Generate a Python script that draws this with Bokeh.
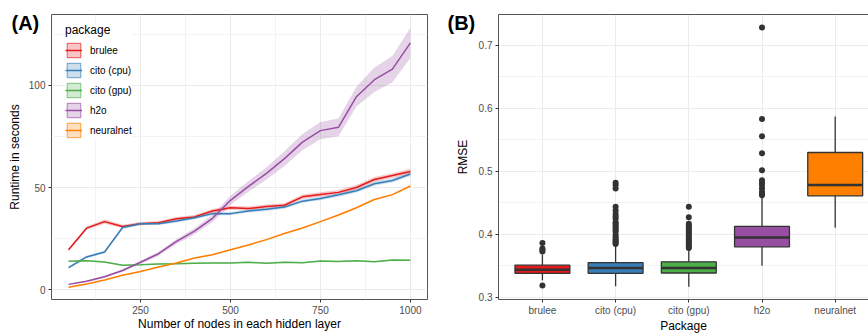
from bokeh.plotting import figure
from bokeh.layouts import row
from bokeh.models import Legend, LegendItem, Title, FixedTicker, LinearAxis, Range1d
from bokeh.embed import file_html
from bokeh.resources import INLINE

FONT = "Liberation Sans"

# ---------------- data: panel A (runtime) ----------------
nodes = [50, 100, 150, 200, 250, 300, 350, 400, 450, 500,
         550, 600, 650, 700, 750, 800, 850, 900, 950, 1000]
packages = ["brulee", "cito (cpu)", "cito (gpu)", "h2o", "neuralnet"]
colors = ["#E41A1C", "#377EB8", "#4DAF4A", "#984EA3", "#FF7F00"]

runtime_brulee = [19.6, 30.2, 33.4, 31.0, 32.4, 32.9, 34.8, 35.7, 38.6, 40.2,
                  39.8, 40.8, 41.4, 45.5, 46.6, 47.7, 50.1, 54.0, 55.9, 57.9]
runtime_cito_cpu = [10.9, 16.1, 18.5, 30.5, 32.4, 32.4, 33.7, 35.3, 37.3, 37.3,
                    38.6, 39.4, 40.5, 43.4, 44.7, 46.5, 48.5, 51.9, 53.5, 56.7]
runtime_cito_gpu = [14.0, 14.3, 13.6, 12.0, 12.3, 12.7, 12.8, 13.0, 13.2, 13.2,
                    13.5, 13.0, 13.5, 13.3, 14.1, 13.9, 14.3, 13.8, 14.6, 14.5]
runtime_h2o = [2.7, 4.2, 6.4, 9.5, 13.5, 17.7, 23.7, 28.7, 35.0, 43.8,
               50.6, 57.0, 64.2, 72.3, 77.9, 79.5, 94.5, 102.8, 108.0, 120.8]
runtime_neuralnet = [1.3, 2.9, 4.8, 7.2, 9.0, 11.2, 13.2, 15.6, 17.2, 19.6,
                     22.0, 24.6, 27.6, 30.3, 33.4, 36.6, 40.2, 44.2, 46.6, 50.8]

# half-width of the confidence ribbons
band_brulee = [0.6, 0.8, 1.0, 0.9, 0.8, 0.8, 0.9, 0.9, 1.0, 1.0,
               1.0, 1.0, 1.0, 1.1, 1.1, 1.1, 1.2, 1.2, 1.2, 1.3]
band_cito_cpu = [0.5, 0.6, 0.6, 0.7, 0.7, 0.7, 0.7, 0.7, 0.8, 0.8,
                 0.8, 0.8, 0.8, 0.8, 0.9, 0.9, 0.9, 0.9, 1.0, 1.0]
band_cito_gpu = [0.3, 0.3, 0.3, 0.3, 0.3, 0.3, 0.3, 0.3, 0.3, 0.3,
                 0.3, 0.3, 0.3, 0.3, 0.3, 0.3, 0.3, 0.3, 0.3, 0.3]
band_h2o = [0.3, 0.4, 0.5, 0.6, 0.8, 1.0, 1.2, 1.5, 1.8, 2.2,
            2.6, 3.0, 3.6, 4.0, 4.2, 4.3, 4.8, 6.0, 6.4, 7.4]
band_neuralnet = [0.2, 0.2, 0.2, 0.3, 0.3, 0.3, 0.3, 0.3, 0.3, 0.3,
                  0.3, 0.3, 0.3, 0.3, 0.3, 0.4, 0.4, 0.4, 0.4, 0.4]

x_ticks_a = [250, 500, 750, 1000]
y_ticks_a = [0, 50, 100]

# ---------------- data: panel B (RMSE boxplots) ----------------
box_pos = [1, 2, 3, 4, 5]
box_q1 = [0.338, 0.338, 0.3385, 0.380, 0.461]
box_med = [0.3437, 0.3463, 0.3463, 0.3947, 0.478]
box_q3 = [0.351, 0.355, 0.3562, 0.4125, 0.5297]
whisk_lo = [0.327, 0.3177, 0.3166, 0.350, 0.4103]
whisk_hi = [0.368, 0.3828, 0.3775, 0.460, 0.5869]
out_brulee = [0.386, 0.3775, 0.375, 0.3725, 0.3188]
out_cito_cpu = [0.3845, 0.3864, 0.388, 0.3906, 0.393, 0.3958, 0.399, 0.4036,
                0.406, 0.4088, 0.412, 0.414, 0.417, 0.4192, 0.4244, 0.428,
                0.4322, 0.4375, 0.4437, 0.4724, 0.478, 0.4817]
out_cito_gpu = [0.378, 0.380, 0.382, 0.3854, 0.388, 0.3906, 0.393, 0.3958,
                0.398, 0.401, 0.4036, 0.4062, 0.409, 0.4114, 0.414, 0.4166,
                0.427, 0.4437]
out_h2o = [0.462, 0.4645, 0.467, 0.4727, 0.478, 0.4815, 0.4856, 0.5015,
           0.5286, 0.5556, 0.5828, 0.728]
out_neuralnet = []
y_ticks_b = [0.3, 0.4, 0.5, 0.6, 0.7]

NAN = float("nan")


def style_axes(p):
    for ax in p.axis:
        ax.axis_line_color = None
        ax.major_tick_line_color = "#333333"
        ax.major_tick_out = 3
        ax.major_tick_in = 0
        ax.minor_tick_line_color = None
        ax.major_label_text_font = FONT
        ax.major_label_text_font_size = "10px"
        ax.major_label_text_color = "#4D4D4D"
        ax.major_label_standoff = 2
        ax.axis_label_text_font = FONT
        ax.axis_label_text_font_size = "12px"
        ax.axis_label_text_font_style = "normal"
        ax.axis_label_text_color = "black"
    p.grid.grid_line_color = "#EBEBEB"
    p.grid.grid_line_width = 1
    p.grid.minor_grid_line_color = "#F0F0F0"
    p.grid.minor_grid_line_width = 0.8
    p.background_fill_color = "white"
    p.border_fill_color = "white"


def panel_tag(p, text, offset):
    """Bold panel tag such as (A): a left-aligned title pulled down beside the frame."""
    p.add_layout(Title(text=text, align="left", offset=offset, standoff=-38,
                       vertical_align="bottom", text_font=FONT,
                       text_font_size="20px", text_font_style="bold",
                       text_color="black"), "above")


# ---------------- panel A ----------------
pA = figure(width=440, height=335, x_range=Range1d(2.5, 1047.5),
            y_range=Range1d(-4.7, 134.7), output_backend="svg",
            toolbar_location=None, min_border_left=51, min_border_right=13,
            min_border_top=14, min_border_bottom=32)
style_axes(pA)
pA.outline_line_color = "#555555"
pA.outline_line_width = 1
pA.xaxis.ticker = FixedTicker(ticks=x_ticks_a, minor_ticks=[125, 375, 625, 875])
pA.yaxis.ticker = FixedTicker(ticks=y_ticks_a, minor_ticks=[25, 75, 125])
pA.xaxis.axis_label = "Number of nodes in each hidden layer"
pA.yaxis.axis_label = "Runtime in seconds"
pA.xaxis.axis_label_standoff = 0
pA.yaxis.axis_label_standoff = 4

runtimes = [runtime_brulee, runtime_cito_cpu, runtime_cito_gpu, runtime_h2o, runtime_neuralnet]
bands = [band_brulee, band_cito_cpu, band_cito_gpu, band_h2o, band_neuralnet]

for vals, band, c in zip(runtimes, bands, colors):
    lo = [v - b for v, b in zip(vals, band)]
    hi = [v + b for v, b in zip(vals, band)]
    pA.varea(x=nodes, y1=lo, y2=hi, fill_color=c, fill_alpha=0.25)

items = []
for name, vals, c in zip(packages, runtimes, colors):
    key = pA.quad(left=[NAN], right=[NAN], top=[NAN], bottom=[NAN], fill_color=c,
                  fill_alpha=0.25, line_color=c, line_alpha=0.7, line_width=1)
    ln = pA.line(x=nodes, y=vals, line_color=c, line_width=1.5)
    items.append(LegendItem(label=name, renderers=[key, ln]))

legend = Legend(items=items, location=(14, 160), title="package",
                title_text_font=FONT, title_text_font_size="12px",
                title_text_font_style="normal", title_text_color="black",
                label_text_font=FONT, label_text_font_size="10px",
                label_text_color="black",
                glyph_width=17, glyph_height=18, label_height=18, spacing=2,
                label_standoff=8, padding=6, margin=0, title_standoff=4,
                border_line_color=None, background_fill_color="white",
                background_fill_alpha=1.0)
pA.add_layout(legend)
panel_tag(pA, "(A)", -40)

# ---------------- panel B ----------------
pB = figure(width=428, height=335, x_range=Range1d(0.4, 5.455),
            y_range=Range1d(0.2965, 0.7486), output_backend="svg",
            toolbar_location=None, min_border_left=58, min_border_right=0,
            min_border_top=14, min_border_bottom=32)
style_axes(pB)
pB.outline_line_color = None
pB.xaxis.ticker = FixedTicker(ticks=box_pos, minor_ticks=[])
pB.xaxis.major_label_overrides = {p: n for p, n in zip(box_pos, packages)}
pB.yaxis.ticker = FixedTicker(ticks=y_ticks_b, minor_ticks=[0.35, 0.45, 0.55, 0.65])
pB.yaxis.major_label_overrides = {t: f"{t:.1f}" for t in y_ticks_b}
pB.xaxis.axis_label = "Package"
pB.yaxis.axis_label = "RMSE"
pB.xaxis.axis_label_standoff = 0
pB.yaxis.axis_label_standoff = 6
pB.xaxis.axis_line_color = "#555555"
pB.yaxis.axis_line_color = "#555555"
panel_tag(pB, "(B)", -51)
top_axis = LinearAxis(ticker=FixedTicker(ticks=[]), axis_line_color="#555555",
                      major_tick_line_color=None, minor_tick_line_color=None,
                      major_tick_out=0, major_tick_in=0, major_label_standoff=0)
pB.add_layout(top_axis, "above")

half = 0.75 / 2
pB.segment(x0=box_pos, x1=box_pos, y0=box_q3, y1=whisk_hi, line_color="#333333", line_width=1.3)
pB.segment(x0=box_pos, x1=box_pos, y0=box_q1, y1=whisk_lo, line_color="#333333", line_width=1.3)
pB.vbar(x=box_pos, width=0.75, top=box_q3, bottom=box_q1, fill_color=colors,
        line_color="#333333", line_width=1.3)
pB.segment(x0=[p - half for p in box_pos], x1=[p + half for p in box_pos],
           y0=box_med, y1=box_med, line_color="#333333", line_width=2.5)

outliers = [out_brulee, out_cito_cpu, out_cito_gpu, out_h2o, out_neuralnet]
ox, oy = [], []
for p, outs in zip(box_pos, outliers):
    ox += [p] * len(outs)
    oy += outs
pB.scatter(x=ox, y=oy, size=6, fill_color="#333333", line_color=None)

layout = row(pA, pB)
open("out.html", "w").write(file_html(layout, INLINE))
